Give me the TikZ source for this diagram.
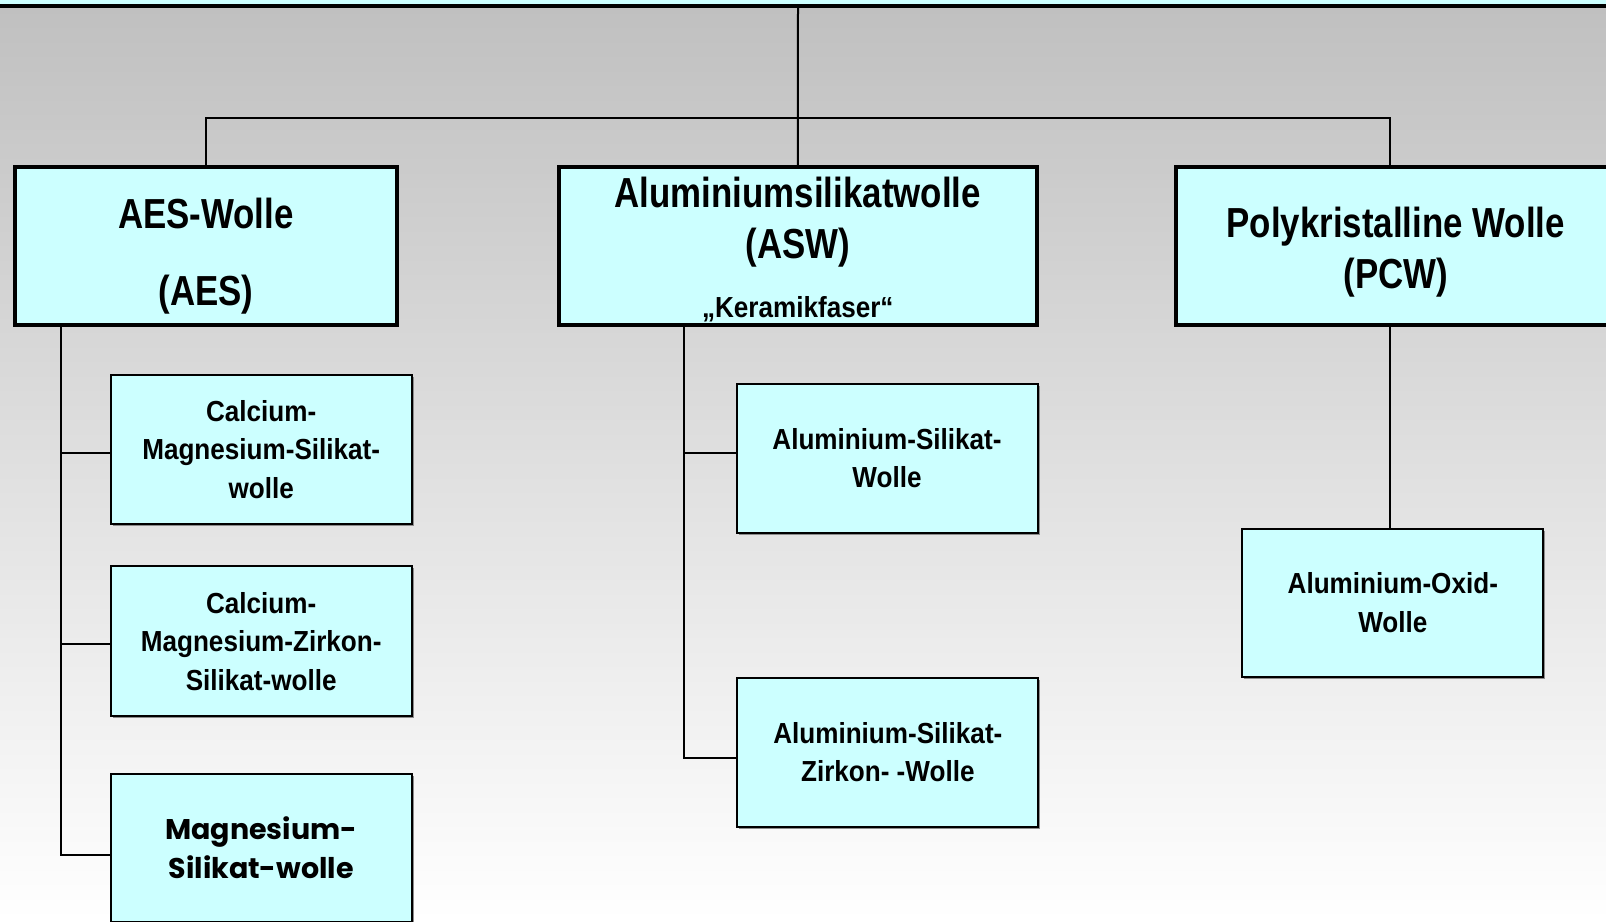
\documentclass[tikz,border=0pt]{standalone}
\usepackage{fontspec}
\usetikzlibrary{shadows}
\newfontfamily\bigf{Liberation Sans}[FakeStretch=0.83]
\newfontfamily\smallf{Liberation Sans}[FakeStretch=0.9]
\newfontfamily\gothic{Poppins}
\definecolor{boxcyan}{HTML}{CCFFFF}
\definecolor{bgtop}{HTML}{C0C0C0}
\begin{document}
\begin{tikzpicture}[x=1pt,y=-1pt,
  topbox/.style={draw=black, line width=3.5pt, fill=boxcyan, inner sep=0pt, align=center,
    font=\bigf\bfseries\fontsize{42}{51}\selectfont},
  subbox/.style={draw=black, line width=2pt, fill=boxcyan,
    drop shadow={shadow xshift=2pt, shadow yshift=-2pt, fill=black!45, opacity=1},
    minimum width=301pt, minimum height=149.6pt, inner sep=0pt, align=center,
    font=\smallf\bfseries\fontsize{29}{38.5}\selectfont},
  conn/.style={line width=2pt, line cap=rect}]
\useasboundingbox (0,0) rectangle (1606,921);
\clip (0,0) rectangle (1606,921);
% background
\shade[top color=bgtop, bottom color=white] (0,6) rectangle (1606,921);
\fill[boxcyan] (0,0) rectangle (1606,4);
\fill[black] (0,4) rectangle (1606,8);

% top level boxes
\node[topbox, minimum width=381.7pt, minimum height=158.2pt] (aes) at (205.9,245.9)
  {\rule{0pt}{51pt}AES-Wolle\\[26pt](AES)};
\node[topbox, minimum width=478pt, minimum height=158.2pt] (asw) at (797.8,245.9)
  {\rule{0pt}{38pt}Aluminiumsilikatwolle\\(ASW)\\[8pt]{\smallf\bfseries\fontsize{29}{30}\selectfont „Keramikfaser“}};
\node[topbox, minimum width=440pt, minimum height=158.2pt] (pcw) at (1395.8,245.9)
  {\rule{0pt}{42pt}Polykristalline Wolle\\(PCW)};

% AES children
\node[subbox] (c1) at (261.2,449.6) {Calcium-\\Magnesium-Silikat-\\wolle};
\node[subbox] (c2) at (261.2,641.2) {Calcium-\\Magnesium-Zirkon-\\Silikat-wolle};
\node[subbox, minimum height=148pt, font=\gothic\bfseries\fontsize{28.5}{39}\selectfont] (c3) at (261.2,848)
  {Magnesium-\\Silikat-wolle};

% ASW children
\node[subbox, minimum height=148.6pt] (a1) at (887,458.3) {Aluminium-Silikat-\\Wolle};
\node[subbox, minimum height=148.6pt] (a2) at (887.8,752.3) {Aluminium-Silikat-\\Zirkon- -Wolle};

% PCW child
\node[subbox, minimum height=148.6pt] (p1) at (1392.8,602.8) {Aluminium-Oxid-\\Wolle};

% connectors
\coordinate (topc) at (798,6);
\coordinate (hub) at (798,118);
\draw[conn] (topc) -- (asw.north);
\draw[conn] (aes.north) |- (hub) -| ([xshift=-6pt]pcw.north);

\coordinate (aesd) at ([xshift=47.5pt]aes.south west);
\coordinate (c1in) at ([yshift=-3pt]c1.west);
\coordinate (c2in) at ([yshift=-3pt]c2.west);
\coordinate (c3in) at ([yshift=-7pt]c3.west);
\draw[conn] (aesd) |- (c3in);
\draw[conn] (aesd |- c1in) -- (c1in);
\draw[conn] (aesd |- c2in) -- (c2in);

\coordinate (aswd) at ([xshift=127.25pt]asw.south west);
\coordinate (a1in) at ([yshift=5.6pt]a1.west);
\coordinate (a2in) at ([yshift=-5.7pt]a2.west);
\draw[conn] (aswd) |- (a2in);
\draw[conn] (aswd |- a1in) -- (a1in);

\coordinate (pcwd) at ([xshift=-6pt]pcw.south);
\draw[conn] (pcwd) -- (pcwd |- p1.north);
\end{tikzpicture}
\end{document}
